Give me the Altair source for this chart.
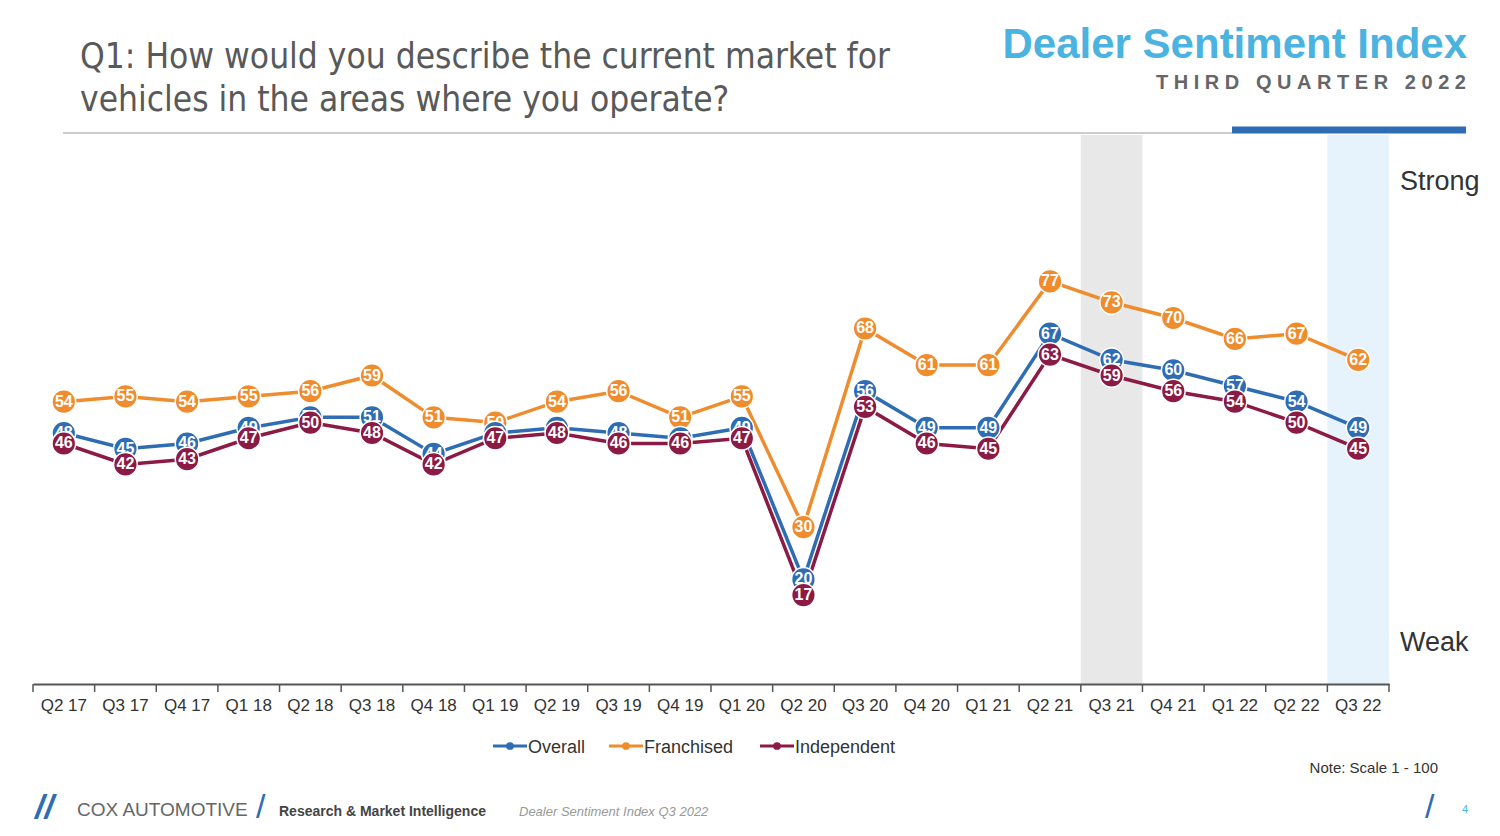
import altair as alt
import pandas as pd

quarters = ["Q2 17","Q3 17","Q4 17","Q1 18","Q2 18","Q3 18","Q4 18","Q1 19","Q2 19","Q3 19","Q4 19",
            "Q1 20","Q2 20","Q3 20","Q4 20","Q1 21","Q2 21","Q3 21","Q4 21","Q1 22","Q2 22","Q3 22"]
overall = [48,45,46,49,51,51,44,48,49,48,47,49,20,56,49,49,67,62,60,57,54,49]
franchised = [54,55,54,55,56,59,51,50,54,56,51,55,30,68,61,61,77,73,70,66,67,62]
independent = [46,42,43,47,50,48,42,47,48,46,46,47,17,53,46,45,63,59,56,54,50,45]
series = ["Overall", "Franchised", "Independent"]
colors = ["#2E6DB4", "#EF8C2E", "#8B1A45"]

rows = []
for name, vals in zip(series, [overall, franchised, independent]):
    for q, v in zip(quarters, vals):
        rows.append({"Quarter": q, "Series": name, "Value": v})
df = pd.DataFrame(rows)

W, H = 1356, 549
xscale = alt.Scale(type="band", paddingInner=0, paddingOuter=0)
xs = alt.X("Quarter:N", sort=quarters, scale=xscale,
           axis=alt.Axis(title=None, labelAngle=0, labelFontSize=17, labelColor="#333",
                         labelFont="Liberation Sans", domainColor="#555", domainWidth=2,
                         ticks=False, labelPadding=13, labelBaseline="top", bandPosition=0.5,
                         labelAlign="center"))
ys = alt.Y("Value:Q", scale=alt.Scale(domain=[0, 105], nice=False), axis=None)
col = alt.Color("Series:N", sort=series, scale=alt.Scale(domain=series, range=colors), legend=None)

shade = pd.DataFrame({"Quarter": ["Q3 21", "Q3 22"], "c": ["#E8E8E8", "#E6F2FC"]})
rects = alt.Chart(shade).mark_rect().encode(
    x=alt.X("Quarter:N", sort=quarters, scale=xscale), y=alt.value(0), y2=alt.value(H),
    color=alt.Color("c:N", scale=None))

order = ["Franchised", "Overall", "Independent"]
layers = [rects]
for s in order:
    d = df[df.Series == s]
    layers.append(alt.Chart(d).mark_line(strokeWidth=3.5).encode(x=xs, y=ys, color=col))
for s in order:
    d = df[df.Series == s]
    layers.append(alt.Chart(d).mark_circle(size=560, opacity=1, stroke="white", strokeWidth=1.5)
                  .encode(x=xs, y=ys, color=col))
    layers.append(alt.Chart(d).mark_text(color="white", fontSize=16, fontWeight="bold",
                                         font="Liberation Sans").encode(x=xs, y=ys, text="Value:Q"))
main = alt.layer(*layers)

tdf = pd.DataFrame({"i": list(range(len(quarters) + 1))})
ticks = alt.Chart(tdf).mark_rule(color="#555", strokeWidth=1.5).encode(
    x=alt.X("i:Q", scale=alt.Scale(domain=[0, len(quarters)], nice=False, zero=False), axis=None),
    y=alt.value(H), y2=alt.value(H + 8))

dummy = pd.DataFrame({"a": [0]})
def txt(s, x, y, size, color="#595959", align="left", weight="normal", font="Liberation Sans", style="normal"):
    return alt.Chart(dummy).mark_text(text=s, align=align, baseline="alphabetic", fontSize=size,
                                      color=color, fontWeight=weight, font=font, fontStyle=style).encode(
        x=alt.value(x - 33), y=alt.value(y - 135))

def rule(x1, x2, y, color, w):
    return alt.Chart(dummy).mark_rule(color=color, strokeWidth=w).encode(
        x=alt.value(x1 - 33), x2=alt.value(x2 - 33), y=alt.value(y - 135))

def circ(x, y, color):
    return alt.Chart(dummy).mark_circle(size=60, opacity=1, color=color).encode(
        x=alt.value(x - 33), y=alt.value(y - 135))

nb = "\u00a0"
sub = (nb * 3).join([nb.join(list(w)) for w in ["THIRD", "QUARTER", "2022"]])

deco = []
lx = [493, 609, 760]
for i, s in enumerate(series):
    deco.append(rule(lx[i], lx[i] + 34, 746, colors[i], 3))
    deco.append(circ(lx[i] + 17, 746, colors[i]))
    deco.append(txt(s, lx[i] + 35, 753, 18, color="#333"))

deco += [
    txt("Q1: How would you describe the current market for", 80, 68, 35, font="DejaVu Sans Condensed"),
    txt("vehicles in the areas where you operate?", 80, 111, 35, font="DejaVu Sans Condensed"),
    txt("Dealer Sentiment Index", 1467, 58, 42, color="#4BB3E0", align="right", weight="bold"),
    txt(sub, 1466, 89, 20, color="#666", align="right", weight="bold"),
    rule(63, 1232, 133, "#999", 1),
    rule(1232, 1466, 130, "#2E6DB4", 7),
    txt("Strong", 1400, 190, 27, color="#333"),
    txt("Weak", 1400, 651, 27, color="#333"),
    txt("Note: Scale 1 - 100", 1438, 773, 15, color="#333", align="right"),
    txt("//", 35, 818, 34, color="#2E6DB4", weight="bold", style="italic"),
    txt("COX AUTOMOTIVE", 77, 816, 19, color="#666"),
    txt("/", 256, 818, 34, color="#2E6DB4"),
    txt("Research & Market Intelligence", 279, 816, 14, color="#444", weight="bold"),
    txt("Dealer Sentiment Index Q3 2022", 519, 816, 13, color="#999", style="italic"),
    txt("/", 1425, 818, 34, color="#2E6DB4"),
    txt("4", 1462, 813, 11, color="#4BB3E0"),
]

chart = alt.layer(main, ticks, *deco).resolve_scale(x="independent").properties(
    width=W, height=H, autosize=alt.AutoSizeParams(type="none"),
    padding={"left": 25, "top": 127, "right": 95, "bottom": 144}
).configure(background="white").configure_view(strokeWidth=0)

chart.save("out.html", embed_options={"renderer": "svg", "actions": False})
